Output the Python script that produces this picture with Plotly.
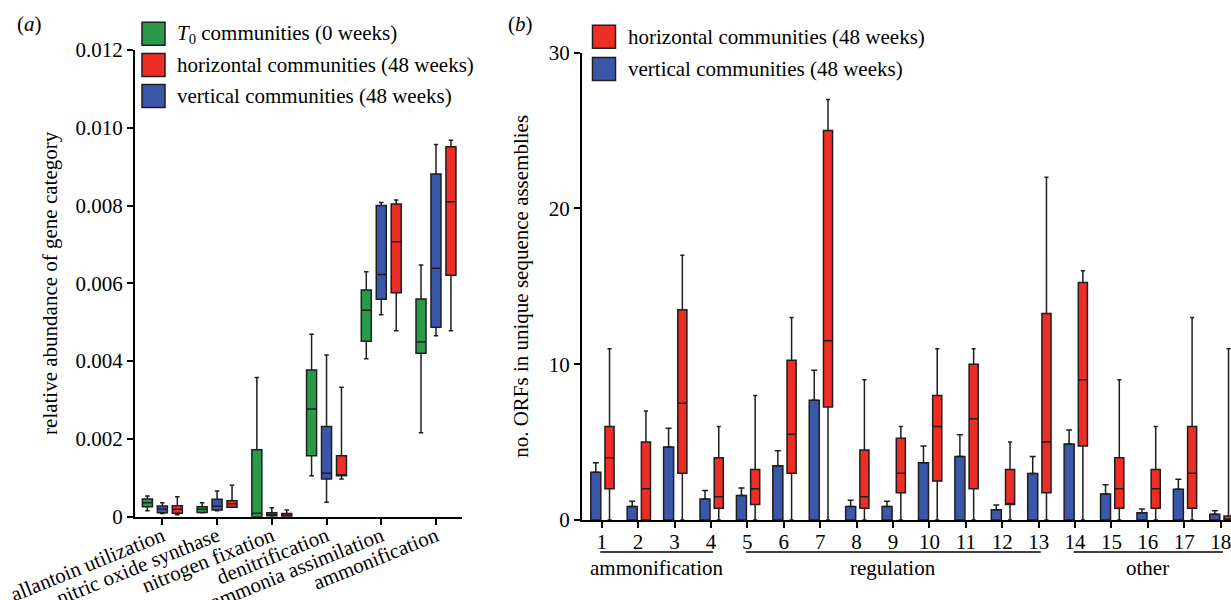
import numpy as np
import plotly.graph_objects as go

W, H = 1231, 600
FONT = "Liberation Serif"
FS = 21
GREEN = "#2a9a4a"
RED = "#ee2d24"
BLUE = "#3b57aa"
EDGE = "#1e1e1e"

# ---------------- Panel (a) data ----------------
categories_a = ["allantoin utilization", "nitric oxide synthase", "nitrogen fixation",
                "denitrification", "ammonia assimilation", "ammonification"]

t0_q1 = [0.000257, 0.00011, 0.0, 0.00157, 0.00451, 0.0042]
t0_median = [0.00036, 0.00019, 0.00009, 0.00277, 0.00531, 0.00449]
t0_q3 = [0.000455, 0.000257, 0.00172, 0.00377, 0.00583, 0.0056]
t0_low = [0.000154, 0.0001, 0.0, 0.00105, 0.00406, 0.00216]
t0_high = [0.00053, 0.00036, 0.00358, 0.00469, 0.0063, 0.00647]

vert_q1 = [0.000103, 0.00017, 0.00002, 0.00097, 0.00559, 0.00487]
vert_median = [0.0002, 0.00027, 0.00005, 0.00112, 0.00623, 0.00639]
vert_q3 = [0.000275, 0.00045, 0.0001, 0.00232, 0.0080, 0.00881]
vert_low = [0.00008, 0.00015, 0.0, 0.00037, 0.00519, 0.00465]
vert_high = [0.00036, 0.00066, 0.00023, 0.00416, 0.00808, 0.00957]

horiz_q1 = [0.00009, 0.00024, 0.00001, 0.00105, 0.00576, 0.00621]
horiz_median = [0.00019, 0.00033, 0.00004, 0.00105, 0.00707, 0.0081]
horiz_q3 = [0.00028, 0.00041, 0.00008, 0.00157, 0.00804, 0.00951]
horiz_low = [0.00005, 0.00024, 0.0, 0.00097, 0.00478, 0.00478]
horiz_high = [0.00051, 0.00081, 0.00017, 0.00333, 0.00814, 0.00968]

ytick_vals_a = [0, 0.002, 0.004, 0.006, 0.008, 0.010, 0.012]
ytick_text_a = ["0", "0.002", "0.004", "0.006", "0.008", "0.010", "0.012"]

# ---------------- Panel (b) data ----------------
orf_ids = list(range(1, 19))
vert_mean_b = [3.06, 0.86, 4.69, 1.35, 1.58, 3.49, 7.69, 0.86, 0.86,
               3.68, 4.07, 0.66, 2.98, 4.88, 1.67, 0.47, 1.97, 0.37]
vert_upper_b = [3.68, 1.2, 5.89, 1.9, 2.06, 4.45, 9.61, 1.26, 1.2,
                4.75, 5.48, 0.96, 4.07, 5.78, 2.27, 0.71, 2.61, 0.6]

horiz_b_q1 = [2, 0, 3, 0.75, 1, 3, 7.25, 0.75, 1.75, 2.5, 2, 1, 1.75, 4.75, 0.75, 0.75, 0.75, 0]
horiz_b_median = [4, 2, 7.5, 1.5, 2, 5.5, 11.5, 1.5, 3, 6, 6.5, 1, 5, 9, 2, 2, 3, 0]
horiz_b_q3 = [6, 5, 13.5, 4, 3.25, 10.25, 25, 4.5, 5.25, 8, 10, 3.25, 13.25, 15.25, 4, 3.25, 6, 0.25]
horiz_b_low = [0] * 18
horiz_b_high = [11, 7, 17, 6, 8, 13, 27, 9, 6, 11, 11, 5, 22, 16, 9, 6, 13, 11]

groups_b = [("ammonification", 1, 4), ("regulation", 5, 13), ("other", 14, 18)]
ytick_vals_b = [0, 10, 20, 30]

legend_a = [("<i>T</i><sub>0</sub> communities (0 weeks)", GREEN),
            ("horizontal communities (48 weeks)", RED),
            ("vertical communities (48 weeks)", BLUE)]
legend_b = [("horizontal communities (48 weeks)", RED),
            ("vertical communities (48 weeks)", BLUE)]

# ---------------- layout geometry (page pixels -> paper fractions) ----------------
def px_x(p):
    return p / W

def px_y(p):
    return 1 - p / H

fig = go.Figure()

box_common = dict(boxpoints=False, whiskerwidth=0.45,
                  line=dict(color=EDGE, width=1.5), showlegend=False,
                  alignmentgroup="a")

fig.add_trace(go.Box(name="T0", x=categories_a, q1=t0_q1, median=t0_median, q3=t0_q3,
                     lowerfence=t0_low, upperfence=t0_high, fillcolor=GREEN,
                     offsetgroup="g", xaxis="x", yaxis="y", **box_common))
fig.add_trace(go.Box(name="vertical", x=categories_a, q1=vert_q1, median=vert_median, q3=vert_q3,
                     lowerfence=vert_low, upperfence=vert_high, fillcolor=BLUE,
                     offsetgroup="v", xaxis="x", yaxis="y", **box_common))
fig.add_trace(go.Box(name="horizontal", x=categories_a, q1=horiz_q1, median=horiz_median, q3=horiz_q3,
                     lowerfence=horiz_low, upperfence=horiz_high, fillcolor=RED,
                     offsetgroup="h", xaxis="x", yaxis="y", **box_common))

# Panel (b): blue bars with upper error bars, red boxes
fig.add_trace(go.Bar(x=orf_ids, y=vert_mean_b, width=0.275, offset=-0.30,
                     marker=dict(color=BLUE, line=dict(color=EDGE, width=1.5)),
                     error_y=dict(type="data", symmetric=False,
                                  array=list(np.array(vert_upper_b) - np.array(vert_mean_b)),
                                  arrayminus=[0] * 18, color=EDGE, thickness=1.5, width=3),
                     showlegend=False, xaxis="x2", yaxis="y2"))
BOX_SHIFT = 0.215
fig.add_trace(go.Box(x=list(np.array(orf_ids) + BOX_SHIFT), q1=horiz_b_q1, median=horiz_b_median,
                     q3=horiz_b_q3, lowerfence=horiz_b_low, upperfence=horiz_b_high,
                     width=0.25, fillcolor=RED, boxpoints=False, whiskerwidth=0.45,
                     line=dict(color=EDGE, width=1.5), showlegend=False,
                     alignmentgroup="b", offsetgroup="b",
                     xaxis="x2", yaxis="y2"))

axis_common = dict(showline=True, linecolor="black", linewidth=2.2, ticks="outside",
                   ticklen=6, tickwidth=2, tickcolor="black", showgrid=False, zeroline=False,
                   automargin=False, ticklabeloverflow="allow",
                   tickfont=dict(family=FONT, size=FS, color="black"), fixedrange=True)

fig.update_layout(
    template="none",
    width=W, height=H, margin=dict(l=0, r=0, t=0, b=0, pad=0),
    paper_bgcolor="white", plot_bgcolor="white",
    font=dict(family=FONT, size=FS, color="black"),
    boxmode="group", boxgap=0.18, boxgroupgap=0.33,
    showlegend=False,
    xaxis=dict(domain=[px_x(135), px_x(461.7)], type="category", range=[-0.5, 5.47],
               tickangle=-22, ticklabelstandoff=-9, anchor="y", **axis_common),
    yaxis=dict(domain=[px_y(516.7), px_y(50)], range=[0, 0.012], tickvals=ytick_vals_a,
               ticktext=ytick_text_a, anchor="x",
               title=dict(text="relative abundance of gene category",
                          font=dict(family=FONT, size=FS), standoff=12),
               **axis_common),
    xaxis2=dict(domain=[px_x(582), 1.0], range=[0.459, 18.283], tickvals=orf_ids,
                ticklabelstandoff=-4, anchor="y2", **axis_common),
    yaxis2=dict(domain=[px_y(520), px_y(52.7)], range=[0, 30], tickvals=ytick_vals_b,
                anchor="x2",
                title=dict(text="no. ORFs in unique sequence assemblies",
                           font=dict(family=FONT, size=FS), standoff=14),
                **axis_common),
)

shapes = []
annotations = []

# panel letters
annotations.append(dict(text="(<i>a</i>)", x=px_x(15), y=px_y(24), xref="paper", yref="paper",
                        xanchor="left", yanchor="middle", showarrow=False,
                        font=dict(family=FONT, size=FS)))
annotations.append(dict(text="(<i>b</i>)", x=px_x(506), y=px_y(24), xref="paper", yref="paper",
                        xanchor="left", yanchor="middle", showarrow=False,
                        font=dict(family=FONT, size=FS)))

# legends drawn as patches + labels
def add_legend(items, x_patch, y_first, spacing):
    for i, (label, color) in enumerate(items):
        yc = y_first + i * spacing
        shapes.append(dict(type="rect", xref="paper", yref="paper",
                           x0=px_x(x_patch), x1=px_x(x_patch + 23),
                           y0=px_y(yc + 11.5), y1=px_y(yc - 11.5),
                           fillcolor=color, line=dict(color=EDGE, width=1.5)))
        annotations.append(dict(text=label, x=px_x(x_patch + 33), y=px_y(yc),
                                xref="paper", yref="paper", xanchor="left", yanchor="middle",
                                showarrow=False, font=dict(family=FONT, size=FS)))

add_legend(legend_a, 142, 33.7, 31.2)
add_legend(legend_b, 592.5, 36.7, 32.3)

# group brackets for panel (b)
for label, start, end in groups_b:
    shapes.append(dict(type="line", xref="x2", yref="paper", x0=start - 0.04, x1=end + 0.06,
                       y0=px_y(552), y1=px_y(552), line=dict(color="black", width=1.5)))
    annotations.append(dict(text=label, x=(start + end) / 2, y=px_y(568), xref="x2", yref="paper",
                            xanchor="center", yanchor="middle", showarrow=False,
                            font=dict(family=FONT, size=FS)))

fig.update_layout(shapes=shapes, annotations=annotations)

fig.write_html("out.html", config={"displayModeBar": False},
               post_script="document.body.style.margin='0';document.body.style.overflow='hidden';")
